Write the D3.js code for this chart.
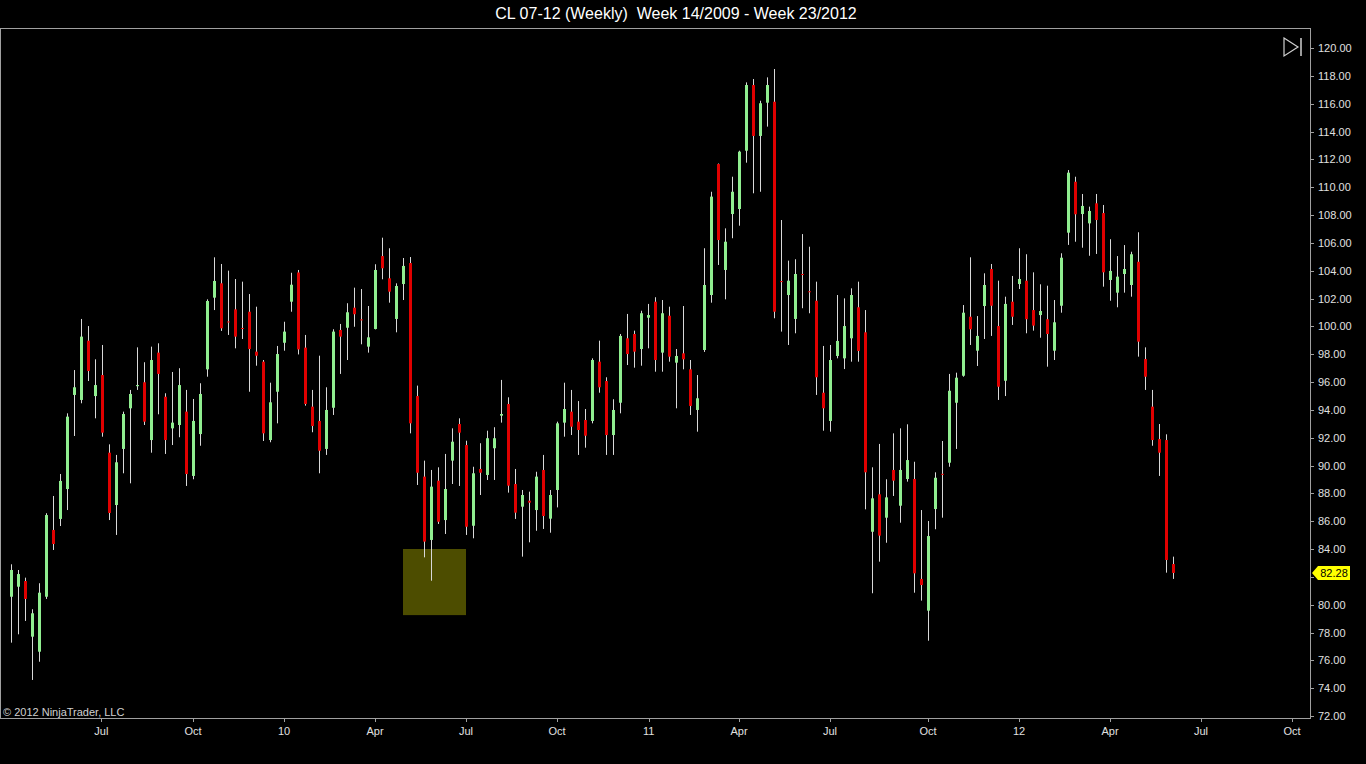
<!DOCTYPE html>
<html><head><meta charset="utf-8">
<script src="https://cdn.jsdelivr.net/npm/d3@7/dist/d3.min.js"></script>
<style>html,body{margin:0;padding:0;background:#000;overflow:hidden}svg{display:block}</style>
</head><body><svg id="c" width="1366" height="764"></svg>
<script>
const title = "CL 07-12 (Weekly)  Week 14/2009 - Week 23/2012";
const opens = [80.57,81.29,81.70,77.70,76.62,80.57,85.37,86.16,88.31,95.07,94.71,98.97,94.99,96.50,90.92,87.16,91.19,94.11,95.70,95.98,
91.83,98.11,94.94,92.67,92.91,93.87,89.25,92.26,96.91,102.06,103.09,100.35,101.22,99.88,101.05,98.18,97.46,91.83,95.30,98.82,
101.77,103.87,98.47,94.23,93.20,91.19,94.15,99.74,99.90,101.34,100.50,98.54,99.81,105.05,103.45,100.53,103.04,104.55,94.99,89.20,
84.65,88.91,86.08,90.35,92.98,91.47,85.67,89.75,89.32,91.24,93.58,94.42,88.67,87.04,87.47,86.80,89.68,86.18,88.24,93.08,
93.87,93.15,93.27,93.20,97.46,96.07,92.19,94.51,99.14,99.45,98.37,100.62,101.77,98.11,100.76,97.39,98.06,96.91,93.99,98.30,
102.25,111.66,104.05,108.07,108.43,112.62,117.34,113.68,116.07,116.14,103.25,102.25,100.53,103.76,102.52,101.84,95.23,93.20,97.87,97.70,
99.14,101.37,99.57,85.24,87.93,86.25,89.68,87.11,89.03,89.03,81.85,79.57,86.87,89.40,90.20,94.51,96.45,100.69,98.25,101.46,
104.12,100.02,96.09,101.77,103.04,103.28,101.17,100.81,100.51,98.25,101.48,106.73,110.39,108.07,107.40,108.84,108.14,103.33,102.42,103.76,
102.97,104.64,97.65,94.23,91.90,91.83,82.92];
const highs = [82.90,82.49,81.94,79.67,81.54,86.57,87.81,89.39,93.75,96.86,100.53,100.02,97.63,98.66,91.52,90.76,93.87,95.43,98.49,97.42,
98.54,98.78,95.19,96.72,96.99,95.43,94.78,95.91,101.94,104.96,104.48,104.00,103.40,103.21,102.32,101.41,97.58,95.95,98.59,100.33,
103.85,104.05,99.38,95.43,97.89,95.62,99.79,100.17,101.66,102.78,102.68,101.46,104.46,106.37,105.61,103.09,104.91,104.98,95.74,90.35,
89.68,89.87,90.83,92.67,93.39,91.78,89.91,91.60,92.50,92.75,96.15,94.90,89.75,88.24,88.12,89.55,90.76,88.24,93.15,95.95,
95.43,94.63,94.06,97.70,98.97,96.34,94.76,99.45,100.89,99.69,101.12,101.61,102.09,101.89,101.41,98.37,101.46,97.58,96.50,105.61,
109.67,111.70,107.04,110.75,112.62,117.53,117.77,116.21,117.89,118.49,107.64,104.72,104.82,106.63,105.72,103.21,98.59,98.66,102.25,102.01,
102.73,103.21,101.17,89.87,91.55,89.01,92.31,92.67,92.96,90.27,86.80,86.01,89.51,91.76,96.58,96.67,101.53,104.96,100.74,103.81,
104.48,103.28,102.13,103.62,105.61,105.18,103.88,103.02,102.92,101.89,105.25,111.23,110.75,109.51,108.60,109.51,108.72,106.26,105.05,105.84,
105.36,106.76,98.49,95.43,92.98,92.24,83.45];
const lows = [77.27,77.87,78.83,74.59,75.90,80.41,83.93,85.65,86.80,92.12,94.47,96.07,93.39,92.07,86.08,85.01,89.44,88.72,95.43,92.91,
90.92,93.68,90.83,91.47,92.03,88.53,89.01,91.42,96.38,101.17,99.67,99.38,98.42,99.09,95.30,97.17,91.76,91.67,93.03,98.25,
101.05,97.98,94.30,92.39,89.44,90.76,93.63,96.58,97.58,99.97,98.71,98.11,99.78,103.38,101.70,99.57,101.89,92.31,88.60,83.40,
81.72,85.80,85.08,88.67,88.53,85.01,84.77,87.88,88.96,88.96,93.08,88.05,86.16,83.45,84.48,85.31,85.44,85.17,86.99,92.07,
92.19,90.76,91.28,93.03,95.23,90.76,90.76,93.75,97.22,97.03,97.17,98.42,96.74,96.74,97.46,94.11,96.91,93.63,92.43,98.16,
101.70,104.41,101.94,106.33,107.23,111.76,109.56,109.67,114.35,100.58,99.62,98.66,99.50,101.30,100.94,95.07,92.50,92.43,97.70,96.93,
97.46,97.46,86.85,80.82,83.09,84.45,87.81,85.89,88.84,80.86,80.29,77.41,85.42,86.25,89.91,91.19,96.38,98.66,97.15,99.09,
99.31,94.71,94.99,100.10,102.68,99.50,99.69,99.18,97.10,97.58,100.98,105.85,106.08,105.65,105.07,105.20,102.85,101.84,101.37,102.42,
102.13,97.82,95.43,91.42,89.25,82.30,81.85];
const closes = [82.49,82.20,80.41,79.38,80.86,86.44,84.36,88.89,93.51,95.62,99.26,96.79,95.78,92.36,86.59,90.23,93.70,95.14,95.78,93.15,
97.58,96.58,91.83,93.08,95.78,89.39,93.20,95.14,101.82,103.26,99.86,100.33,99.26,99.86,98.37,97.89,92.31,94.54,98.01,99.62,
102.99,98.34,94.42,92.84,91.06,93.99,99.62,99.26,101.01,100.87,100.46,99.21,104.05,104.17,102.49,102.90,104.34,93.03,89.48,84.53,
88.48,85.96,88.31,91.71,92.36,85.60,89.44,89.48,91.96,91.96,93.70,88.55,86.61,87.88,87.33,89.20,86.37,87.88,93.03,94.06,
92.79,92.55,92.14,97.58,95.62,92.19,93.99,99.31,98.01,98.18,100.94,100.81,97.58,100.94,97.82,97.87,97.63,94.28,94.83,102.97,
109.32,106.20,106.08,109.67,112.55,117.34,113.68,116.03,117.34,101.05,103.21,103.28,103.76,103.70,102.49,96.34,94.11,97.58,98.95,100.02,
102.25,98.23,89.51,87.64,84.96,87.71,88.91,89.68,90.39,82.25,81.41,84.93,89.12,89.37,95.37,96.31,100.98,99.79,99.31,102.97,
101.48,95.66,101.61,100.69,103.40,100.51,100.05,101.10,99.45,100.29,104.93,111.04,108.05,108.65,108.29,107.64,103.88,103.98,103.57,104.12,
105.18,98.90,96.38,91.83,90.92,83.21,82.28];
const yTicks = d3.range(72, 120.01, 2);
const monthLabels = ["Jul","Oct","10","Apr","Jul","Oct","11","Apr","Jul","Oct","12","Apr","Jul","Oct"];
const monthBarIndex = [12.8,25.9,38.9,51.9,64.9,77.9,91.0,103.9,116.9,130.9,143.9,156.9,169.9,182.9];
const lastPrice = 82.28;
const copyright = "\u00a9 2012 NinjaTrader, LLC";

const svg = d3.select("#c");
const W = 1366, H = 764;
const plotR = 1310, plotT = 28, plotB = 718;
const font = "Arial, 'Liberation Sans', sans-serif";
const x = d3.scaleLinear().domain([0, 166]).range([11.7, 1173.7]);
const y = d3.scaleLinear().domain([72, 120]).range([716, 48]);

svg.append("rect").attr("width", W).attr("height", H).attr("fill", "#000");
svg.append("text").attr("x", 676).attr("y", 19).attr("text-anchor", "middle")
  .attr("fill", "#fff").attr("font-family", font).attr("font-size", 16)
  .style("white-space", "pre").text(title);
svg.append("rect").attr("x", 0.5).attr("y", plotT + 0.5).attr("width", plotR).attr("height", plotB - plotT)
  .attr("fill", "none").attr("stroke", "#a0a0a0").attr("stroke-width", 1);

// highlight rectangle
svg.append("rect").attr("x", x(55.9)).attr("y", y(84)).attr("width", x(64.9) - x(55.9)).attr("height", y(79.25) - y(84))
  .attr("fill", "#4d4d00");

const data = opens.map((o, i) => ({i, o, h: highs[i], l: lows[i], c: closes[i]}));
const g = svg.append("g");
data.forEach(d => {
  const px = Math.round(x(d.i) - 0.5);
  const up = d.c >= d.o;
  g.append("line").attr("x1", px + 0.5).attr("x2", px + 0.5).attr("y1", y(d.h)).attr("y2", y(d.l))
    .attr("stroke", "#d8d8d8").attr("stroke-width", 1);
  const top = y(Math.max(d.o, d.c)), bot = y(Math.min(d.o, d.c));
  g.append("rect").attr("x", px - 1).attr("width", 3).attr("y", top).attr("height", Math.max(1, bot - top))
    .attr("fill", up ? "#90ee90" : "#e00000");
});

const ly = y(lastPrice);
const ya = svg.append("g");
yTicks.forEach(t => {
  ya.append("line").attr("x1", plotR).attr("x2", plotR + 4).attr("y1", Math.round(y(t)) + 0.5).attr("y2", Math.round(y(t)) + 0.5)
    .attr("stroke", "#a0a0a0");
  if (Math.abs(y(t) - ly) < 12) return; // hidden under the last-price tag
  ya.append("text").attr("x", plotR + 8).attr("y", y(t) + 4).attr("fill", "#e0e0e0")
    .attr("font-family", font).attr("font-size", 11).text(t.toFixed(2));
});
monthLabels.forEach((m, k) => {
  const xx = x(monthBarIndex[k]);
  svg.append("line").attr("x1", Math.round(xx) + 0.5).attr("x2", Math.round(xx) + 0.5).attr("y1", plotB).attr("y2", plotB + 4).attr("stroke", "#a0a0a0");
  svg.append("text").attr("x", xx).attr("y", 735).attr("text-anchor", "middle").attr("fill", "#e0e0e0")
    .attr("font-family", font).attr("font-size", 11).text(m);
});
svg.append("text").attr("x", 3).attr("y", 716).attr("fill", "#d0d0d0")
  .attr("font-family", font).attr("font-size", 11).text(copyright);
svg.append("path").attr("d", `M${plotR + 2},${ly} L${plotR + 8},${ly - 7} L${plotR + 40},${ly - 7} L${plotR + 40},${ly + 7} L${plotR + 8},${ly + 7} Z`)
  .attr("fill", "#ffff00");
svg.append("text").attr("x", plotR + 24).attr("y", ly + 4).attr("text-anchor", "middle").attr("fill", "#000")
  .attr("font-family", font).attr("font-size", 11).text(lastPrice.toFixed(2));
svg.append("path").attr("d", "M1284,38 L1298,47 L1284,56 Z").attr("fill", "none").attr("stroke", "#d0d0d0").attr("stroke-width", 1.2);
svg.append("line").attr("x1", 1301).attr("x2", 1301).attr("y1", 38).attr("y2", 56).attr("stroke", "#d0d0d0").attr("stroke-width", 1.5);
</script></body></html>
